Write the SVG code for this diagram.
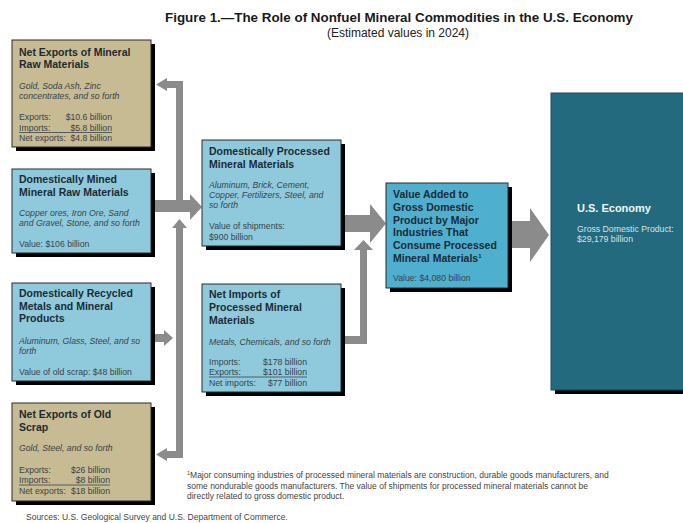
<svg xmlns="http://www.w3.org/2000/svg" width="683" height="523" viewBox="0 0 683 523">
<style>
text{font-family:"Liberation Sans",Arial,sans-serif;}
.shadow{fill:#000;}
.tan{fill:#c6bb92;stroke:#2a2a2a;stroke-width:1;}
.lb{fill:#8fcadc;stroke:#2a2a2a;stroke-width:1;}
.mb{fill:#4fafce;stroke:#2a2a2a;stroke-width:1;}
.db{fill:#236a7f;stroke:#1a4a58;stroke-width:1;}
.t{font-size:10.5px;font-weight:bold;fill:#1d2a33;}
.i{font-size:8.7px;font-style:italic;fill:#3a444a;}
.v{font-size:8.7px;fill:#3a444a;}
.ul{stroke:#3a444a;stroke-width:0.8;}
.arrow{fill:#8b8b8b;}
.title{font-size:13.4px;font-weight:bold;fill:#1a1a1a;}
.sub{font-size:12px;fill:#222;}
.fn{font-size:8.5px;fill:#444;}
</style>
<rect width="683" height="523" fill="#fff"/>
<text class="title" x="399" y="22" text-anchor="middle">Figure 1.—The Role of Nonfuel Mineral Commodities in the U.S. Economy</text>
<text class="sub" x="398" y="37" text-anchor="middle">(Estimated values in 2024)</text>

<g id="connectors">
<polygon class="arrow" points="153,200 190,200 190,194 202,207 190,220 190,212 153,212"/>
<polygon class="arrow" points="176,206 176,88 167,88 167,91 156,84.5 167,78 167,81 183,81 183,206"/>
<polygon class="arrow" points="179.5,219 187,228 183,228 183,458 167,458 167,461 156,454.5 167,448 167,451 176,451 176,228 172,228"/>
<polygon class="arrow" points="154,334 164,334 164,330 173,338 164,346 164,342 154,342"/>
<polygon class="arrow" points="345,215 370,215 370,204 386,223.5 370,243 370,232 345,232"/>
<polygon class="arrow" points="345,336 360,336 360,250 354,250 363.5,240 373,250 367,250 367,344 345,344"/>
<polygon class="arrow" points="512,221 530,221 530,208 549,235 530,262 530,248 512,248"/>
</g>

<g id="net-exports-raw">
<rect class="shadow" x="16" y="44" width="139" height="107"/>
<rect class="tan" x="12" y="40" width="139" height="107"/>
<text class="t" x="19" y="56">Net Exports of Mineral</text>
<text class="t" x="19" y="68">Raw Materials</text>
<text class="i" x="19" y="89">Gold, Soda Ash, Zinc</text>
<text class="i" x="19" y="99">concentrates, and so forth</text>
<text class="v" x="19" y="120">Exports:</text>
<text class="v" x="112" y="120" text-anchor="end">$10.6 billion</text>
<text class="v" x="19" y="130.5">Imports:</text>
<text class="v" x="112" y="130.5" text-anchor="end">$5.8 billion</text>
<line class="ul" x1="19" y1="132.5" x2="112" y2="132.5"/>
<text class="v" x="19" y="141">Net exports:</text>
<text class="v" x="112" y="141" text-anchor="end">$4.8 billion</text>
</g>

<g id="domestically-mined">
<rect class="shadow" x="16" y="173" width="139" height="84"/>
<rect class="lb" x="12" y="169" width="139" height="84"/>
<text class="t" x="19" y="183">Domestically Mined</text>
<text class="t" x="19" y="196">Mineral Raw Materials</text>
<text class="i" x="19" y="216">Copper ores, Iron Ore, Sand</text>
<text class="i" x="19" y="226">and Gravel, Stone, and so forth</text>
<text class="v" x="19" y="247">Value:  $106 billion</text>
</g>

<g id="domestically-recycled">
<rect class="shadow" x="16" y="287" width="139" height="98"/>
<rect class="lb" x="12" y="283" width="139" height="98"/>
<text class="t" x="19" y="297">Domestically Recycled</text>
<text class="t" x="19" y="310">Metals and Mineral</text>
<text class="t" x="19" y="322">Products</text>
<text class="i" x="19" y="344">Aluminum, Glass, Steel, and so</text>
<text class="i" x="19" y="354">forth</text>
<text class="v" x="19" y="375">Value of old scrap:  $48 billion</text>
</g>

<g id="net-exports-scrap">
<rect class="shadow" x="16" y="407" width="139" height="98"/>
<rect class="tan" x="12" y="403" width="139" height="98"/>
<text class="t" x="19" y="418">Net Exports of Old</text>
<text class="t" x="19" y="431">Scrap</text>
<text class="i" x="19" y="451">Gold, Steel, and so forth</text>
<text class="v" x="19" y="473">Exports:</text>
<text class="v" x="110" y="473" text-anchor="end">$26 billion</text>
<text class="v" x="19" y="483">Imports:</text>
<text class="v" x="110" y="483" text-anchor="end">$8 billion</text>
<line class="ul" x1="19" y1="485" x2="110" y2="485"/>
<text class="v" x="19" y="493.5">Net exports:</text>
<text class="v" x="110" y="493.5" text-anchor="end">$18 billion</text>
</g>

<g id="domestically-processed">
<rect class="shadow" x="206" y="144" width="139" height="106"/>
<rect class="lb" x="202" y="140" width="139" height="106"/>
<text class="t" x="209" y="155">Domestically Processed</text>
<text class="t" x="209" y="168">Mineral Materials</text>
<text class="i" x="209" y="188">Aluminum, Brick, Cement,</text>
<text class="i" x="209" y="198">Copper, Fertilizers, Steel, and</text>
<text class="i" x="209" y="208">so forth</text>
<text class="v" x="209" y="229">Value of shipments:</text>
<text class="v" x="209" y="240">$900 billion</text>
</g>

<g id="net-imports-processed">
<rect class="shadow" x="206" y="288" width="139" height="108"/>
<rect class="lb" x="202" y="284" width="139" height="108"/>
<text class="t" x="209" y="298">Net Imports of</text>
<text class="t" x="209" y="311">Processed Mineral</text>
<text class="t" x="209" y="324">Materials</text>
<text class="i" x="209" y="345">Metals, Chemicals, and so forth</text>
<text class="v" x="209" y="365">Imports:</text>
<text class="v" x="307" y="365" text-anchor="end">$178 billion</text>
<text class="v" x="209" y="375">Exports:</text>
<text class="v" x="307" y="375" text-anchor="end">$101 billion</text>
<line class="ul" x1="209" y1="377" x2="307" y2="377"/>
<text class="v" x="209" y="385.5">Net imports:</text>
<text class="v" x="307" y="385.5" text-anchor="end">$77 billion</text>
</g>

<g id="value-added">
<rect class="shadow" x="390" y="187" width="122" height="105"/>
<rect class="mb" x="386" y="183" width="122" height="105"/>
<text class="t" x="393" y="198">Value Added to</text>
<text class="t" x="393" y="211">Gross Domestic</text>
<text class="t" x="393" y="223.5">Product by Major</text>
<text class="t" x="393" y="236">Industries That</text>
<text class="t" x="393" y="249">Consume Processed</text>
<text class="t" x="393" y="262">Mineral Materials<tspan font-size="6" dy="-4">1</tspan></text>
<text class="v" x="393" y="281">Value:  $4,080 billion</text>
</g>

<g id="us-economy">
<rect class="shadow" x="555" y="97" width="140" height="297"/>
<rect class="db" x="551" y="93" width="140" height="297"/>
<text x="577" y="212" font-size="11px" font-weight="bold" fill="#f2f6f7">U.S. Economy</text>
<text x="577" y="232" font-size="8.7px" fill="#d6e2e6">Gross Domestic Product:</text>
<text x="577" y="242" font-size="8.7px" fill="#d6e2e6">$29,179 billion</text>
</g>

<text class="fn" x="187" y="478"><tspan font-size="5.5" dy="-3">1</tspan><tspan dy="3">Major consuming industries of processed mineral materials are construction, durable goods manufacturers, and</tspan></text>
<text class="fn" x="187" y="488.5">some nondurable goods manufacturers. The value of shipments for processed mineral materials cannot be</text>
<text class="fn" x="187" y="499">directly related to gross domestic product.</text>
<text class="fn" x="26" y="520">Sources: U.S. Geological Survey and U.S. Department of Commerce.</text>
</svg>
